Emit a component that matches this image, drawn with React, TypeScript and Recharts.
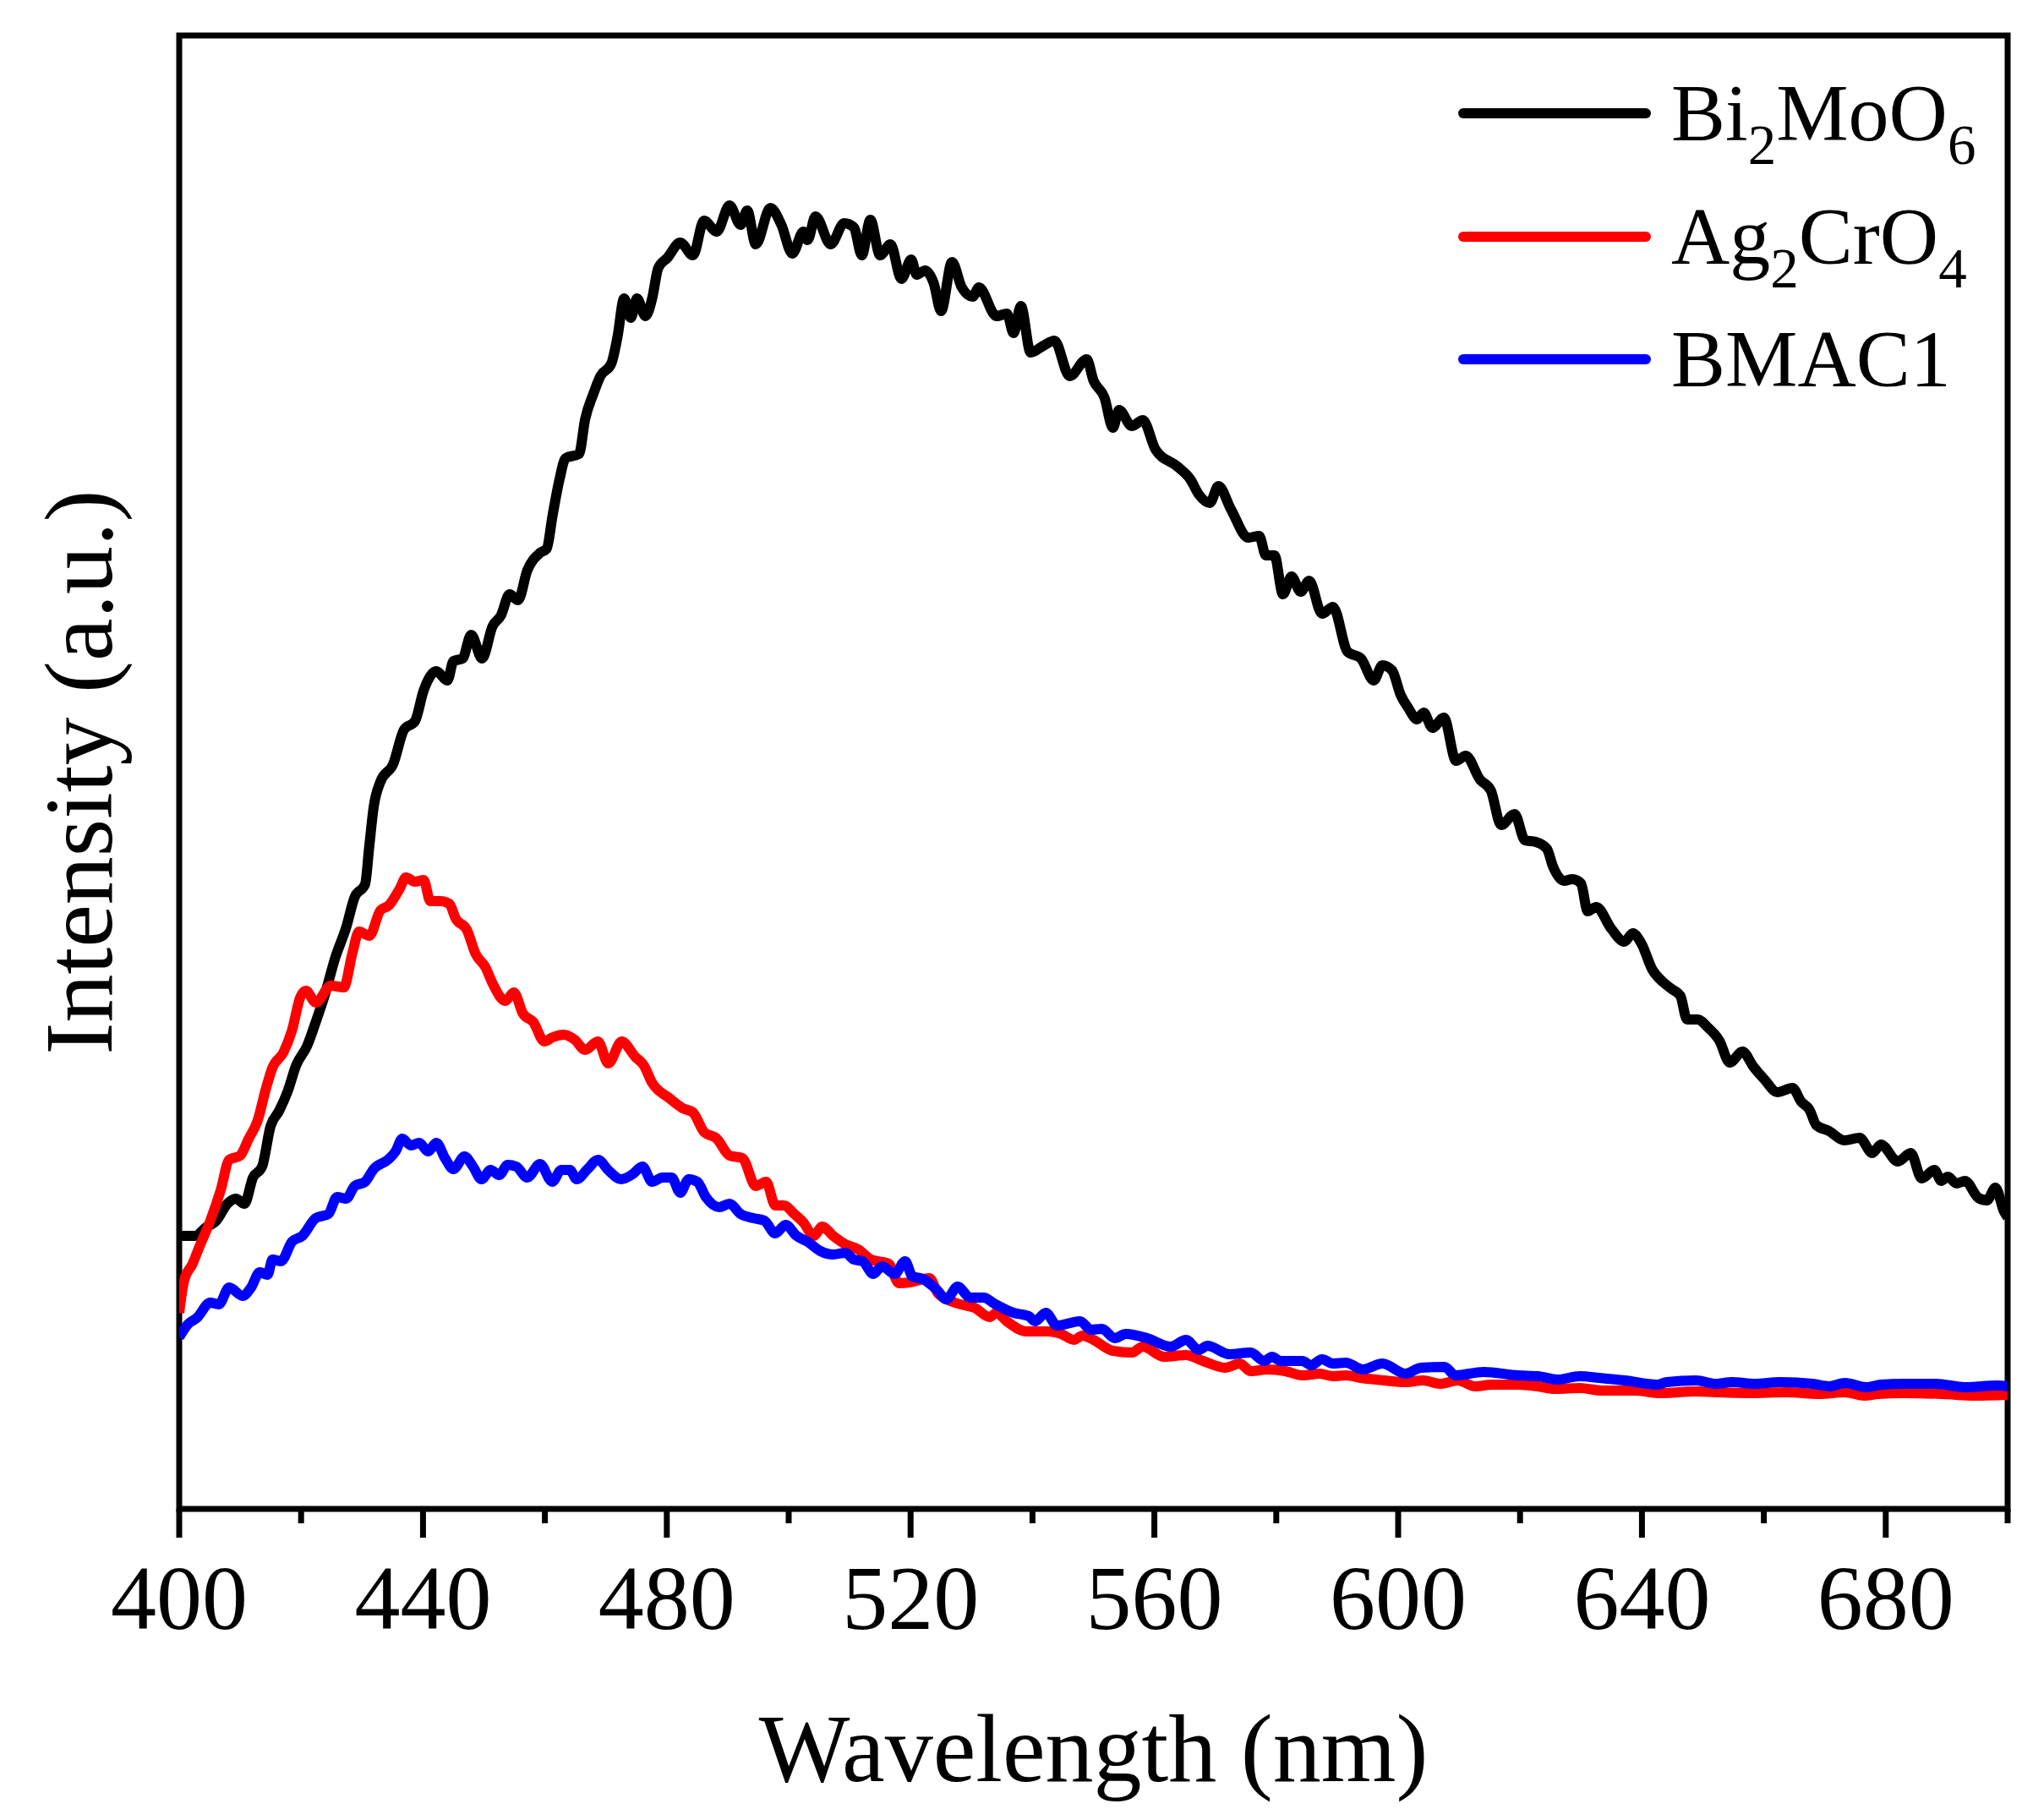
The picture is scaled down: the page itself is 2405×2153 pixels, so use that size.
import React from 'react';
import { LineChart, Line, XAxis, YAxis, ReferenceArea, Legend, Label } from 'recharts';

const FONT = '"Liberation Serif", "Times New Roman", Times, serif';

// ---- X axis ticks ----
const xMajorTicks = [400, 440, 480, 520, 560, 600, 640, 680];
const xAllTicks = [400, 420, 440, 460, 480, 500, 520, 540, 560, 580, 600, 620, 640, 660, 680, 700];

// ---- Bi2MoO6 ----
const bi2moo6Wavelength = [
  400, 402.6, 404.4, 406.1, 407.9, 409.3, 410.7, 412.1, 413.6, 415.0,
  416.4, 417.8, 419.2, 421.0, 422.4, 423.8, 425.6, 427.4, 428.8, 430.5,
  431.2, 431.9, 433.0, 435.1, 436.9, 438.7, 440.1, 442.2, 444.0, 445.0,
  446.5, 447.9, 449.7, 451.4, 452.8, 454.2, 455.6, 457.1, 459.2, 460.3,
  461.3, 462.4, 463.4, 465.6, 466.6, 468.0, 469.1, 470.9, 471.9, 473.0,
  474.1, 475.1, 476.5, 477.6, 478.6, 480.1, 482.2, 484.3, 486.1, 488.2,
  490.3, 492.1, 493.2, 494.6, 497.0, 498.8, 500.6, 502.4, 503.1, 504.4,
  506.9, 509.1, 510.7, 512.0, 513.4, 515.0, 516.7, 518.5, 520.1, 521.0,
  522.4, 523.8, 525.0, 526.8, 528.4, 530.2, 531.2, 534.1, 535.8, 536.9,
  538.1, 539.7, 541.8, 543.6, 546.1, 548.9, 550.0, 551.8, 553.2, 554.2,
  556.3, 558.1, 560.2, 563.8, 565.9, 567.3, 569.1, 570.5, 572.6, 575.4,
  577.2, 578.3, 579.7, 581.1, 582.5, 584.0, 585.4, 587.5, 589.3, 591.7,
  593.9, 596.0, 597.4, 599.0, 600.4, 601.7, 603.1, 604.2, 605.6, 607.5,
  609.5, 611.1, 613.4, 615.2, 616.9, 619.1, 620.8, 622.6, 624.4, 625.4,
  627.2, 628.6, 630.0, 631.1, 632.5, 635.0, 637.1, 638.5, 639.9, 641.7,
  643.5, 644.9, 646.3, 647.4, 649.1, 650.9, 652.7, 654.4, 656.5, 658.3,
  660.1, 662.2, 664.7, 666.1, 667.5, 668.6, 670.7, 673.2, 675.7, 677.8,
  679.2, 682.0, 684.1, 685.9, 688.0, 689.1, 690.2, 691.6, 693.0, 695.2,
  696.6, 698.0, 699.4, 700,
];
const bi2moo6Intensity = [
  323, 323, 333, 341, 361, 367, 361, 392, 405, 453,
  471, 494, 525, 548, 576, 606, 652, 688, 724, 739,
  785, 830, 860, 881, 922, 932, 968, 991, 980, 1003,
  1006, 1034, 1006, 1044, 1057, 1082, 1075, 1110, 1131, 1136,
  1177, 1218, 1243, 1248, 1289, 1320, 1340, 1355, 1386, 1432,
  1409, 1432, 1411, 1432, 1468, 1480, 1498, 1483, 1524, 1511,
  1542, 1519, 1536, 1496, 1539, 1519, 1485, 1511, 1501, 1529,
  1496, 1521, 1516, 1483, 1525, 1483, 1496, 1455, 1478, 1460,
  1465, 1450, 1417, 1475, 1445, 1434, 1445, 1411, 1414, 1391,
  1423, 1368, 1376, 1382, 1340, 1360, 1335, 1315, 1279, 1300,
  1281, 1288, 1253, 1233, 1218, 1200, 1190, 1210, 1182, 1149,
  1151, 1128, 1128, 1082, 1103, 1085, 1098, 1059, 1067, 1014,
  1006, 980, 998, 992, 963, 947, 934, 942, 924, 936,
  885, 891, 863, 850, 809, 822, 791, 789, 781, 760,
  743, 745, 740, 707, 712, 686, 671, 681, 669, 638,
  623, 615, 607, 579, 579, 569, 554, 528, 541, 523,
  508, 493, 498, 482, 472, 454, 447, 436, 439, 421,
  431, 411, 421, 391, 401, 388, 393, 385, 388, 368,
  365, 380, 352, 345,
];

// ---- Ag2CrO4 ----
const ag2cro4Wavelength = [
  400, 400.8, 402.2, 403.3, 405.1, 406.8, 408.2, 410.0, 411.4, 412.8,
  414.3, 415.3, 417.1, 418.5, 419.9, 420.8, 422.4, 424.9, 427.0, 428.4,
  429.5, 431.2, 433.0, 434.4, 436.2, 437.2, 438.7, 440.1, 441.2, 442.9,
  444.3, 445.4, 447.2, 448.6, 450.3, 451.4, 453.5, 454.9, 456.4, 458.1,
  459.9, 461.3, 463.1, 464.9, 466.6, 468.7, 470.4, 472.6, 474.8, 476.2,
  477.6, 480.4, 482.6, 484.3, 486.1, 488.2, 490.3, 492.4, 494.6, 496.3,
  497.8, 499.2, 500.9, 502.4, 504.1, 505.5, 507.3, 509.3, 511.4, 513.5,
  516.4, 518.1, 519.9, 523.1, 524.5, 527.7, 530.5, 533.0, 534.1, 535.8,
  539.0, 542.6, 544.7, 546.8, 548.2, 550.0, 553.2, 556.3, 558.1, 561.6,
  565.2, 568.0, 571.6, 574.0, 575.8, 578.6, 581.5, 584.3, 587.1, 589.3,
  591.4, 593.9, 597.7, 601.2, 604.1, 606.9, 609.8, 612.6, 615.4, 619.7,
  622.9, 625.6, 629.8, 633.5, 638.8, 643.1, 648.9, 652.1, 657.5, 663.8,
  669.1, 673.3, 676.5, 678.7, 682.9, 689.3, 694.6, 700,
];
const ag2cro4Intensity = [
  232, 270, 290, 310, 341, 377, 413, 418, 438, 458,
  499, 522, 540, 566, 606, 613, 599, 619, 617, 657,
  683, 678, 708, 714, 734, 747, 742, 744, 719, 719,
  716, 698, 685, 657, 640, 622, 601, 611, 586, 576,
  553, 558, 561, 555, 543, 553, 527, 553, 535, 525,
  504, 486, 474, 469, 446, 438, 418, 415, 382, 387,
  359, 359, 349, 339, 323, 334, 323, 313, 307, 295,
  290, 267, 268, 273, 255, 243, 238, 227, 232, 222,
  210, 210, 207, 200, 205, 200, 187, 185, 192, 180,
  182, 175, 167, 172, 163, 165, 163, 158, 160, 157,
  158, 155, 152, 150, 152, 148, 152, 145, 147, 147,
  145, 142, 143, 140, 140, 137, 139, 138, 137, 138,
  136, 138, 134, 136, 137, 136, 134, 135,
];

// ---- BMAC1 ----
const bmac1Wavelength = [
  400, 401.5, 402.9, 405.1, 406.5, 408.2, 410.4, 411.8, 413.2, 414.5,
  415.3, 416.7, 418.5, 420.2, 422.4, 424.5, 425.9, 427.4, 428.8, 430.5,
  431.9, 434.4, 435.5, 436.6, 438.0, 439.4, 440.8, 442.2, 443.6, 445.0,
  446.8, 448.2, 449.6, 451.1, 452.5, 453.9, 455.3, 457.1, 459.2, 461.2,
  462.7, 464.1, 465.2, 467.0, 468.7, 470.5, 472.5, 474.4, 476.0, 477.6,
  479.3, 480.8, 482.2, 483.6, 485.0, 486.4, 488.6, 490.3, 492.1, 494.2,
  496.0, 497.8, 499.5, 501.3, 503.1, 505.2, 507.3, 509.3, 510.7, 512.1,
  513.9, 515.3, 517.4, 519.1, 520.3, 522.0, 524.2, 525.9, 527.7, 529.8,
  532.0, 533.7, 536.9, 539.4, 540.4, 542.2, 544.0, 547.8, 549.6, 551.4,
  553.5, 555.3, 558.8, 562.7, 565.2, 567.3, 568.7, 572.3, 575.8, 578.0,
  579.3, 580.7, 584.3, 585.7, 587.5, 589.3, 591.4, 594.2, 597.4, 601.2,
  603.7, 607.6, 609.4, 614.0, 619.7, 622.9, 626.1, 629.8, 633.0, 637.2,
  642.5, 644.1, 648.9, 652.1, 654.8, 658.5, 662.7, 668.0, 670.7, 673.3,
  676.8, 679.2, 682.9, 688.2, 693.0, 698.3, 700,
];
const bmac1Intensity = [
  203, 219, 226, 244, 242, 262, 252, 262, 280, 277,
  295, 293, 316, 323, 344, 349, 369, 367, 382, 387,
  402, 414, 423, 438, 430, 433, 423, 433, 415, 402,
  417, 405, 390, 401, 395, 407, 405, 392, 408, 387,
  401, 401, 390, 402, 413, 400, 390, 396, 405, 387,
  392, 392, 374, 390, 387, 369, 357, 361, 349, 344,
  341, 326, 336, 323, 316, 305, 301, 303, 295, 293,
  278, 287, 278, 293, 275, 272, 260, 248, 263, 250,
  250, 243, 232, 228, 222, 232, 217, 222, 212, 213,
  202, 207, 202, 192, 200, 188, 193, 183, 185, 175,
  180, 175, 175, 170, 177, 172, 173, 165, 172, 160,
  167, 168, 158, 162, 158, 157, 153, 157, 155, 152,
  147, 150, 152, 148, 150, 148, 150, 148, 145, 149,
  144, 147, 148, 148, 144, 146, 145,
];

const X_DOMAIN: [number, number] = [400, 700];
const Y_DOMAIN: [number, number] = [0, 1743];

const toPoints = (xs: number[], ys: number[]) =>
  xs.map((x, i) => ({ wavelength: x, intensity: ys[i] }));

type Seg = { t: string; sub?: boolean };
const seriesList: { key: string; label: Seg[]; color: string; data: { wavelength: number; intensity: number }[] }[] = [
  {
    key: 'Bi2MoO6',
    label: [{ t: 'Bi' }, { t: '2', sub: true }, { t: 'MoO' }, { t: '6', sub: true }],
    color: '#000000',
    data: toPoints(bi2moo6Wavelength, bi2moo6Intensity),
  },
  {
    key: 'Ag2CrO4',
    label: [{ t: 'Ag' }, { t: '2', sub: true }, { t: 'CrO' }, { t: '4', sub: true }],
    color: '#ff0000',
    data: toPoints(ag2cro4Wavelength, ag2cro4Intensity),
  },
  {
    key: 'BMAC1',
    label: [{ t: 'BMAC1' }],
    color: '#0000ff',
    data: toPoints(bmac1Wavelength, bmac1Intensity),
  },
];

const XTick = (props: any) => {
  const { x, y, payload } = props;
  const v = payload.value;
  const major = xMajorTicks.includes(v);
  return (
    <g>
      <line x1={x} x2={x} y1={y} y2={y + (major ? 34 : 17)} stroke="#000" strokeWidth={7} />
      {major && (
        <text x={x} y={y + 142} textAnchor="middle" fontSize={108} fontFamily={FONT} fill="#000">
          {v}
        </text>
      )}
    </g>
  );
};

const XLabelContent = (props: any) => {
  const vb = props.viewBox || { x: 212, y: 1785, width: 2163, height: 368 };
  return (
    <text x={vb.x + vb.width / 2} y={vb.y + 322} textAnchor="middle" fontSize={114} fontFamily={FONT} fill="#000">
      Wavelength (nm)
    </text>
  );
};

const YLabelContent = (props: any) => {
  const vb = props.viewBox || { x: 132, y: 42, width: 80, height: 1743 };
  const cx = vb.x;
  const cy = vb.y + vb.height / 2;
  return (
    <text x={cx} y={cy} transform={`rotate(-90, ${cx}, ${cy})`} textAnchor="middle" fontSize={114} fontFamily={FONT} fill="#000">
      Intensity (a.u.)
    </text>
  );
};

const LEGEND_ROWS = [134, 280, 425];

const LegendContent = () => (
  <svg width={705} height={500} style={{ display: 'block' }}>
    {seriesList.map((s, i) => {
      const ly = LEGEND_ROWS[i];
      const by = ly + 32;
      const parts: React.ReactNode[] = [];
      let prevSub = false;
      s.label.forEach((seg, j) => {
        let dy = 0;
        if (seg.sub && !prevSub) dy = 28;
        if (!seg.sub && prevSub) dy = -28;
        prevSub = !!seg.sub;
        parts.push(
          <tspan key={j} dy={dy} fontSize={seg.sub ? 67 : 96}>
            {seg.t}
          </tspan>
        );
      });
      return (
        <g key={s.key}>
          <line x1={31} x2={247} y1={ly} y2={ly} stroke={s.color} strokeWidth={12} strokeLinecap="round" />
          <text x={277} y={by} fontSize={96} fontFamily={FONT} fill="#000">
            {parts}
          </text>
        </g>
      );
    })}
  </svg>
);

export default function App() {
  return (
    <div style={{ position: 'absolute', left: 0, top: 0, width: 2405, height: 2153, background: '#fff' }}>
      <LineChart width={2405} height={2153} margin={{ top: 42, right: 30, left: 132, bottom: 0 }}>
        <XAxis
          type="number"
          dataKey="wavelength"
          domain={X_DOMAIN}
          ticks={xAllTicks}
          interval={0}
          axisLine={false}
          tickLine={false}
          tickSize={0}
          tickMargin={0}
          tick={<XTick />}
          height={368}
          allowDataOverflow
        >
          <Label content={<XLabelContent />} />
        </XAxis>
        <YAxis
          type="number"
          dataKey="intensity"
          domain={Y_DOMAIN}
          width={80}
          tick={false}
          tickLine={false}
          axisLine={false}
          allowDataOverflow
        >
          <Label content={<YLabelContent />} />
        </YAxis>
        {seriesList.map((s) => (
          <Line
            key={s.key}
            data={s.data}
            dataKey="intensity"
            name={s.key}
            type="monotone"
            stroke={s.color}
            strokeWidth={12}
            strokeLinejoin="round"
            dot={false}
            activeDot={false}
            isAnimationActive={false}
          />
        ))}
        <ReferenceArea
          x1={400}
          x2={700}
          y1={0}
          y2={1743}
          fill="none"
          fillOpacity={0}
          stroke="#000"
          strokeWidth={7}
          ifOverflow="visible"
        />
        <Legend
          layout="horizontal"
          verticalAlign="middle"
          align="center"
          content={<LegendContent />}
          wrapperStyle={{ left: 1700, top: 0, width: 705, height: 500 }}
        />
      </LineChart>
    </div>
  );
}
